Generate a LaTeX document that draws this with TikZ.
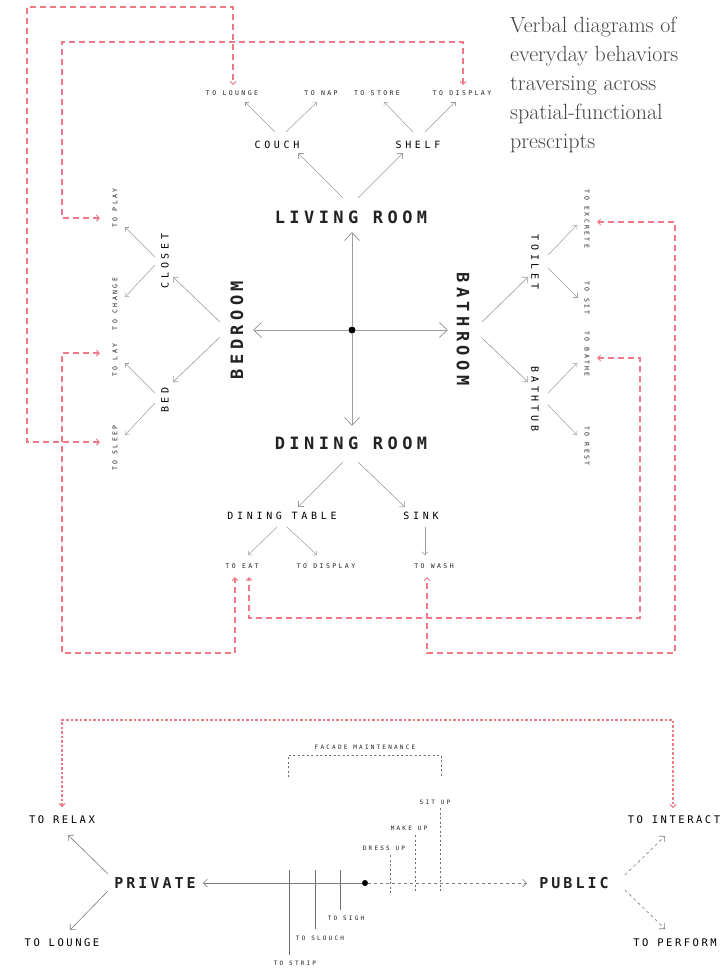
\documentclass[tikz,border=0pt]{standalone}
\usepackage{fontspec}
\usetikzlibrary{arrows.meta,calc}
\newfontfamily\monoBig[LetterSpace=26]{DejaVu Sans Mono}
\newfontfamily\monoBot[LetterSpace=20]{DejaVu Sans Mono}
\newfontfamily\monoW[LetterSpace=37]{DejaVu Sans Mono}
\newfontfamily\monoLab[LetterSpace=24]{DejaVu Sans Mono}
\definecolor{txt}{HTML}{222222}
\definecolor{titc}{HTML}{444444}
\definecolor{lineg}{HTML}{9C9C9C}
\definecolor{redc}{RGB}{238,122,134}
\tikzset{
  big/.style={font={\monoBig\bfseries\fontsize{17}{17}\selectfont}, text=txt, inner sep=0pt},
  bot/.style={font={\monoBot\bfseries\fontsize{15}{15}\selectfont}, text=txt, inner sep=0pt},
  mid/.style={font={\monoW\fontsize{10}{10}\selectfont}, text=black, inner sep=0pt},
  lab/.style={font={\monoLab\fontsize{10.5}{10.5}\selectfont}, text=black, inner sep=0pt},
  sm/.style={font={\monoW\fontsize{6.5}{6.5}\selectfont}, text=txt, inner sep=0pt},
  xs/.style={font={\monoW\fontsize{6}{6}\selectfont}, text=txt, inner sep=0pt},
  titl/.style={font={\fontsize{22}{29}\selectfont}, text=titc, inner sep=0pt, anchor=base west},
  cx/.style={draw=lineg, line width=0.8pt, -{Straight Barb[length=8pt,width=15pt]}},
  ar/.style={draw=lineg, line width=0.6pt, -{Straight Barb[length=4pt,width=8pt]}},
  ars/.style={draw=lineg, line width=0.5pt, -{Straight Barb[length=3pt,width=6pt]}},
  arb/.style={draw=lineg!80!black, line width=0.6pt, -{Straight Barb[length=4pt,width=8pt]}},
  arbd/.style={draw=lineg!80!black, line width=0.6pt, dash pattern=on 3pt off 3pt, -{Straight Barb[length=4pt,width=8pt]}},
  tick/.style={draw=lineg!70!black, line width=0.6pt},
  dotl/.style={draw=lineg!70!black, line width=0.6pt, dash pattern=on 2pt off 2.5pt},
  rd/.style={draw=redc, line width=1.1pt, dash pattern=on 6pt off 4pt, {Straight Barb[length=3pt,width=6pt,line width=0.9pt]}-{Straight Barb[length=3pt,width=6pt,line width=0.9pt]}},
  rdf/.style={draw=redc, line width=1.1pt, dash pattern=on 2.5pt off 2pt, {Straight Barb[length=3pt,width=6pt,line width=0.9pt]}-{Straight Barb[length=3pt,width=6pt,line width=0.9pt]}},
}
\begin{document}
\begin{tikzpicture}[x=1pt,y=-1pt]
\useasboundingbox (0,0) rectangle (722,969);
\fill[white] (0,0) rectangle (722,969);

% title
\node[titl] (ti1) at (510,32) {Verbal diagrams of};
\node[titl] (ti2) at (510,61) {everyday behaviors};
\node[titl] (ti3) at (510,90) {traversing across};
\node[titl] (ti4) at (510,119) {spatial-functional};
\node[titl] (ti5) at (510,148) {prescripts};

% living room
\node[big] (lr) at (351,217) {LIVING ROOM};
\node[mid] (couch) at (277,145) {COUCH};
\node[mid] (shelf) at (418,145) {SHELF};
\node[sm] (tlounge) at (232,93) {TO LOUNGE};
\node[sm] (tnap) at (321,93) {TO NAP};
\node[sm] (tstore) at (377,93) {TO STORE};
\node[sm] (tdispa) at (462,93) {TO DISPLAY};

% center
\node[big,rotate=90] (bedr) at (237,330) {BEDROOM};
\node[big,rotate=-90] (bath) at (463,329) {BATHROOM};
\node[big] (dr) at (351,443) {DINING ROOM};
\node[circle,fill=black,inner sep=0pt,minimum size=7pt] (hub) at (352,330) {};

% bedroom
\node[mid,rotate=90] (closet) at (165,261) {CLOSET};
\node[mid,rotate=90] (bed) at (165,400) {BED};
\node[sm,rotate=90] (tplay) at (115,208) {TO PLAY};
\node[sm,rotate=90] (tchange) at (115,304) {TO CHANGE};
\node[sm,rotate=90] (tlay) at (115,360) {TO LAY};
\node[sm,rotate=90] (tsleep) at (115,448) {TO SLEEP};

% bathroom
\node[mid,rotate=-90] (toilet) at (535,262) {TOILET};
\node[mid,rotate=-90] (tub) at (535,399) {BATHTUB};
\node[sm,rotate=-90] (texc) at (587,219) {TO EXCRETE};
\node[sm,rotate=-90] (tsit) at (587,298) {TO SIT};
\node[sm,rotate=-90] (tbathe) at (587,354) {TO BATHE};
\node[sm,rotate=-90] (trest) at (587,446) {TO REST};

% dining
\node[mid] (dt) at (282,516) {DINING TABLE};
\node[mid] (sink) at (421,516) {SINK};
\node[sm] (teat) at (242,566) {TO EAT};
\node[sm] (tdispb) at (326,566) {TO DISPLAY};
\node[sm] (twash) at (434,566) {TO WASH};

% connectors top
\draw[ar] ($(lr)+(-8,-19)$) -- ($(couch)+(21,8)$);
\draw[ar] ($(lr)+(7,-19)$) -- ($(shelf)+(-15,8)$);
\draw[ars] ($(couch)+(-2,-13)$) -- ($(tlounge)+(13,9)$);
\draw[ars] ($(couch)+(9,-13)$) -- ($(tnap)+(-4,9)$);
\draw[ars] ($(shelf)+(-5,-13)$) -- ($(tstore)+(7,9)$);
\draw[ars] ($(shelf)+(7,-13)$) -- ($(tdispa)+(-7,9)$);

% center cross
\draw[cx] (hub) -- ($(lr)+(1,15)$);
\draw[cx] (hub) -- ($(bedr)+(16,0)$);
\draw[cx] (hub) -- ($(bath)+(-15,1)$);
\draw[cx] (hub) -- ($(dr)+(1,-17)$);

% bedroom connectors
\draw[ar] ($(bedr)+(-17,-8)$) -- ($(closet)+(8,16)$);
\draw[ar] ($(bedr)+(-17,7)$) -- ($(bed)+(8,-18)$);
\draw[ars] ($(closet)+(-10,-4)$) -- ($(tplay)+(10,19)$);
\draw[ars] ($(closet)+(-10,4)$) -- ($(tchange)+(10,-7)$);
\draw[ars] ($(bed)+(-10,-7)$) -- ($(tlay)+(10,3)$);
\draw[ars] ($(bed)+(-10,3)$) -- ($(tsleep)+(10,-13)$);

% bathroom connectors
\draw[ar] ($(bath)+(19,-7)$) -- ($(toilet)+(-7,15)$);
\draw[ar] ($(bath)+(19,9)$) -- ($(tub)+(-7,-17)$);
\draw[ars] ($(toilet)+(13,-7)$) -- ($(texc)+(-10,6)$);
\draw[ars] ($(toilet)+(13,6)$) -- ($(tsit)+(-10,-1)$);
\draw[ars] ($(tub)+(13,-6)$) -- ($(tbathe)+(-10,9)$);
\draw[ars] ($(tub)+(13,6)$) -- ($(trest)+(-10,-11)$);

% dining connectors
\draw[ar] ($(dr)+(-8,19)$) -- ($(dt)+(16,-9)$);
\draw[ar] ($(dr)+(7,19)$) -- ($(sink)+(-16,-9)$);
\draw[ars] ($(dt)+(-5,11)$) -- ($(teat)+(6,-11)$);
\draw[ars] ($(dt)+(5,11)$) -- ($(tdispb)+(-9,-11)$);
\draw[ars] ($(sink)+(4,11)$) -- ($(twash)+(-9,-11)$);

% red loops
\draw[rd] ($(tsleep)+(-15,-6)$) -| (27,7) -| ($(tlounge)+(1,-8)$);
\draw[rd] ($(tplay)+(-15,10)$) -| (62,42) -| ($(tdispa)+(1,-8)$);
\draw[rd] ($(tlay)+(-15,-7)$) -| (62,653) -| ($(teat)+(-7,11)$);
\draw[rd] ($(tbathe)+(10,4)$) -| (640,618) -| ($(teat)+(7,11)$);
\draw[rd] ($(texc)+(10,3)$) -| (675,653) -| ($(twash)+(-7,11)$);

% bottom diagram
\node[bot] (priv) at (155,883) {PRIVATE};
\node[bot] (pub) at (574,883) {PUBLIC};
\node[lab] (trelax) at (62,820) {TO RELAX};
\node[lab] (tloungeb) at (62,943) {TO LOUNGE};
\node[lab] (tint) at (674,820) {TO INTERACT};
\node[lab] (tperf) at (675,943) {TO PERFORM};
\node[circle,fill=black,inner sep=0pt,minimum size=6pt] (hubb) at (365,883) {};
\node[xs] (tstrip) at (295,963) {TO STRIP};
\node[xs] (tslouch) at (320,938) {TO SLOUCH};
\node[xs] (tsigh) at (346,918) {TO SIGH};
\node[xs] (dress) at (384,848) {DRESS UP};
\node[xs] (make) at (409,828) {MAKE UP};
\node[xs] (situp) at (435,802) {SIT UP};
\node[xs] (facade) at (365,747) {FACADE MAINTENANCE};

\draw[arb] (hubb) -- ($(priv)+(48,0)$);
\draw[arbd] (hubb) -- ($(pub)+(-47,0)$);
\draw[arb] ($(priv)+(-47,-9)$) -- ($(trelax)+(6,15)$);
\draw[arb] ($(priv)+(-47,8)$) -- ($(tloungeb)+(8,-13)$);
\draw[arbd] ($(pub)+(51,-8)$) -- ($(tint)+(-9,16)$);
\draw[arbd] ($(pub)+(51,7)$) -- ($(tperf)+(-10,-14)$);

\draw[tick] ($(tstrip)+(-6,-8)$) -- ++(0,-85);
\draw[tick] ($(tslouch)+(-5,-9)$) -- ++(0,-59);
\draw[tick] ($(tsigh)+(-6,-8)$) -- ++(0,-40);

\draw[dotl] ($(dress)+(6,7)$) -- ++(0,38);
\draw[dotl] ($(make)+(6,7)$) -- ++(0,58);
\draw[dotl] ($(situp)+(5,6)$) -- ++(0,85);
\draw[dotl] ($(facade)+(-77,30)$) |- ($(facade)+(0,8)$) -| ($(facade)+(76,30)$);

\draw[rdf] ($(trelax)+(0,-13)$) -- (62,720) -| ($(tint)+(-1,-12)$);
\end{tikzpicture}
\end{document}
